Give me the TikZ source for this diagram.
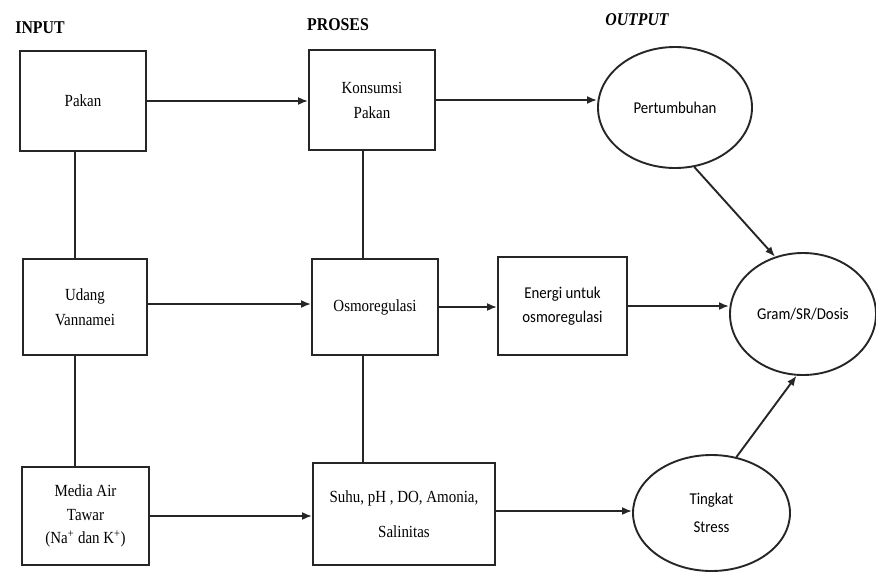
\documentclass[tikz,border=0pt]{standalone}
\usepackage{fontspec}
\setmainfont{Liberation Serif}[FakeStretch=0.88]
\newfontfamily\sansf{Carlito}[FakeStretch=0.9]
\usetikzlibrary{shapes.geometric,arrows.meta}
\begin{document}
\begin{tikzpicture}[x=1pt,y=-1pt,
 box/.style={draw=black!85,line width=1.9pt,rectangle,inner sep=0pt,align=center,font=\fontsize{17}{25}\selectfont},
 oval/.style={draw=black!85,line width=1.9pt,ellipse,inner sep=0pt,align=center,font=\sansf\fontsize{16.5}{26}\selectfont},
 head/.style={font=\bfseries\fontsize{18}{20}\selectfont},
 arr/.style={line width=1.9pt,draw=black!85,-{Latex[length=10pt,width=8pt]}},
 link/.style={line width=1.9pt,draw=black!85}]
\useasboundingbox[fill=white] (0,0) rectangle (876,573);
% headers
\node[head] (hin) at (40,28) {INPUT};
\node[head] (hpr) at (338,25) {PROSES};
\node[head,font=\bfseries\itshape\fontsize{18}{20}\selectfont] (hout) at (637,20) {OUTPUT};
% boxes
\node[box,minimum width=126pt,minimum height=100pt] (pakan) at (83,101) {Pakan};
\node[box,minimum width=126pt,minimum height=100pt] (kons) at (372,100) {Konsumsi\\Pakan};
\node[box,minimum width=124pt,minimum height=96pt] (udang) at (85,307) {Udang\\Vannamei};
\node[box,minimum width=126pt,minimum height=96pt] (osmo) at (375,307) {Osmoregulasi};
\node[box,minimum width=129pt,minimum height=98pt,font=\sansf\fontsize{16.5}{24}\selectfont] (energi) at (562.5,306) {Energi untuk\\osmoregulasi};
\node[box,minimum width=127pt,minimum height=98pt,font=\fontsize{17}{23.5}\selectfont] (media) at (85.5,516) {Media Air\\Tawar\\(Na\textsuperscript{+} dan K\textsuperscript{+})};
\node[box,minimum width=182pt,minimum height=102pt] (suhu) at (404,514) {Suhu, pH , DO, Amonia,\\[10pt]Salinitas};
% ellipses
\node[oval,minimum width=154pt,minimum height=121pt] (pert) at (675,107.5) {Pertumbuhan};
\node[oval,minimum width=146pt,minimum height=122pt] (gram) at (803,314) {Gram/SR/Dosis};
\node[oval,minimum width=157pt,minimum height=116pt,font=\sansf\fontsize{16.5}{28}\selectfont] (ting) at (711.5,513) {Tingkat\\Stress};
% vertical links
\draw[link] ([xshift=-8pt]pakan.south) -- ([xshift=-8pt]pakan.south |- udang.north);
\draw[link] ([xshift=-10pt]udang.south) -- ([xshift=-10pt]udang.south |- media.north);
\draw[link] ([xshift=-9pt]kons.south) -- ([xshift=-9pt]kons.south |- osmo.north);
\draw[link] ([xshift=-12pt]osmo.south) -- ([xshift=-12pt]osmo.south |- suhu.north);
% horizontal arrows
\draw[arr] (pakan.east) -- (pakan.east -| kons.west);
\draw[arr] (kons.east) -- (kons.east -| pert.west);
\draw[arr] ([yshift=3pt]udang.east) -- ([yshift=3pt]udang.east -| osmo.west);
\draw[arr] (osmo.east) -- (osmo.east -| energi.west);
\draw[arr] (energi.east) -- (energi.east -| gram.west);
\draw[arr] (media.east) -- (media.east -| suhu.west);
\draw[arr] ([yshift=3pt]suhu.east) -- ([yshift=3pt]suhu.east -| ting.west);
% diagonal arrows
\draw[arr] (pert.-72) -- (gram.116);
\draw[arr] (ting.66) -- (gram.264);
\end{tikzpicture}
\end{document}
